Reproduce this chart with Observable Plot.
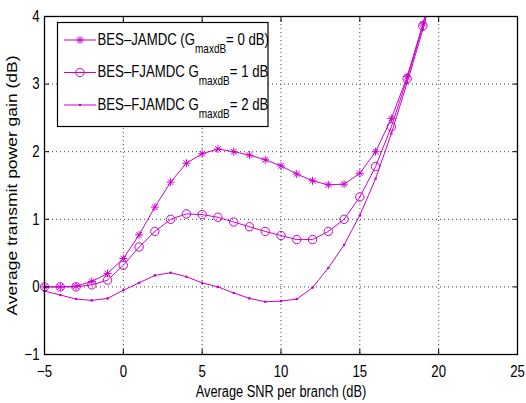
<!DOCTYPE html>
<html>
<head>
<meta charset="utf-8">
<script src="https://cdn.jsdelivr.net/npm/d3@7"></script>
<script src="https://cdn.jsdelivr.net/npm/@observablehq/plot@0.6"></script>
<style>
  html, body { margin: 0; padding: 0; background: white; }
</style>
</head>
<body>
<script>
// ---- data ----
const snr   = [-5, -4, -3, -2, -1, 0, 1, 2, 3, 4, 5, 6, 7, 8, 9, 10, 11, 12, 13, 14, 15, 16, 17, 18, 19, 20];
const gain0 = [0.00, 0.00, 0.01, 0.08, 0.20, 0.42, 0.77, 1.18, 1.55, 1.83, 1.97, 2.04, 2.00, 1.95, 1.88, 1.79, 1.67, 1.57, 1.51, 1.52, 1.68, 2.00, 2.49, 3.11, 3.89, 4.80];
const gain1 = [0.00, 0.00, 0.00, 0.03, 0.10, 0.32, 0.59, 0.82, 1.00, 1.08, 1.07, 1.03, 0.96, 0.89, 0.82, 0.76, 0.70, 0.70, 0.82, 1.00, 1.33, 1.78, 2.37, 3.08, 3.86, 4.75];
const gain2 = [-0.06, -0.12, -0.18, -0.20, -0.17, -0.05, 0.06, 0.17, 0.21, 0.15, 0.06, 0.00, -0.09, -0.17, -0.22, -0.21, -0.18, -0.01, 0.28, 0.62, 1.06, 1.60, 2.27, 3.02, 3.81, 4.70];

const legendMain = ["BES\u2013JAMDC (G", "BES\u2013FJAMDC G", "BES\u2013FJAMDC G"];
const legendSub  = ["maxdB", "maxdB", "maxdB"];
const legendRest = ["= 0 dB)", "= 1 dB", "= 2 dB"];

const xTicks = [-5, 0, 5, 10, 15, 20, 25];
const yTicks = [-1, 0, 1, 2, 3, 4];
const xGrid  = [0, 5, 10, 15, 20];
const yGrid  = [0, 1, 2, 3];
const xLabel = "Average SNR per branch (dB)";
const yLabel = "Average transmit power gain (dB)";

// ---- build ----
const rows = snr.map((x, i) => ({x, g0: gain0[i], g1: gain1[i], g2: gain2[i]}));
const color = "#cc00cc";
const FONT = "'Liberation Sans', Arial, Helvetica, sans-serif";
const fmt = d3.format("d");
const blank = () => "";

// MATLAB-style 8-armed asterisk
const star = {
  draw(ctx, size) {
    const r = Math.sqrt(size / Math.PI), d = r * Math.SQRT1_2;
    ctx.moveTo(-r, 0); ctx.lineTo(r, 0);
    ctx.moveTo(0, -r); ctx.lineTo(0, r);
    ctx.moveTo(-d, -d); ctx.lineTo(d, d);
    ctx.moveTo(-d, d); ctx.lineTo(d, -d);
  }
};

const gridStyle = {stroke: "#444", strokeOpacity: 1, strokeWidth: 1, strokeDasharray: "1,3"};
const inside = (k) => (d) => d[k] <= 4;
const TICK = 5;

const plot = Plot.plot({
  width: 526,
  height: 403,
  marginLeft: 44,
  marginRight: 9,
  marginTop: 16,
  marginBottom: 49,
  style: {fontFamily: FONT, fontSize: "16.5px", background: "white", color: "black"},
  x: {domain: [-5, 25]},
  y: {domain: [-1, 4]},
  marks: [
    Plot.gridX(xGrid, gridStyle),
    Plot.gridY(yGrid, gridStyle),
    Plot.line(rows, {x: "x", y: "g0", stroke: color, strokeWidth: 1, clip: true}),
    Plot.line(rows, {x: "x", y: "g1", stroke: color, strokeWidth: 1, clip: true}),
    Plot.line(rows, {x: "x", y: "g2", stroke: color, strokeWidth: 1, clip: true}),
    Plot.dot(rows, {filter: inside("g0"), x: "x", y: "g0", symbol: star, r: 4, stroke: color, fill: "none", strokeWidth: 1}),
    Plot.dot(rows, {filter: inside("g1"), x: "x", y: "g1", symbol: "circle", r: 4.2, stroke: color, fill: "none", strokeWidth: 1}),
    Plot.dot(rows, {filter: inside("g2"), x: "x", y: "g2", symbol: "circle", r: 1.3, fill: color, stroke: "none"}),
    Plot.frame({stroke: "black", strokeWidth: 1.3}),
    // inward tick marks on all four sides
    Plot.axisX(xTicks, {anchor: "bottom", tickSize: TICK, dy: -TICK, tickFormat: blank, label: null}),
    Plot.axisX(xTicks, {anchor: "top", tickSize: TICK, dy: TICK, tickFormat: blank, label: null}),
    Plot.axisY(yTicks, {anchor: "left", tickSize: TICK, dx: TICK, tickFormat: blank, label: null}),
    Plot.axisY(yTicks, {anchor: "right", tickSize: TICK, dx: -TICK, tickFormat: blank, label: null}),
    // tick labels
    Plot.axisX(xTicks, {anchor: "bottom", tickSize: 0, tickPadding: 11, tickFormat: fmt, label: null, fontSize: 16.5}),
    Plot.axisY(yTicks, {anchor: "left", tickSize: 0, tickPadding: 5, tickFormat: fmt, label: null, fontSize: 16.5}),
    Plot.text([xLabel], {frameAnchor: "bottom", dy: 42, lineAnchor: "bottom", textAnchor: "middle", text: (d) => d, fontSize: 16}),
    Plot.text([yLabel], {frameAnchor: "left", dx: -32, rotate: -90, textAnchor: "middle", lineAnchor: "middle", text: (d) => d, fontSize: 17.5})
  ]
});

document.body.append(plot);

// horizontally condensed lettering, as in the reference
const SQUEEZE = 0.8;
d3.select(plot).selectAll("text").each(function () {
  const t = this.getAttribute("transform") || "";
  if (t.includes("rotate")) {
    // rotated label: thin the glyphs horizontally, keep its length
    this.setAttribute("transform", t.replace("rotate", `scale(${SQUEEZE},1) rotate`));
    return;
  }
  const w = this.getComputedTextLength();
  if (w > 0) {
    this.setAttribute("textLength", (w * SQUEEZE).toFixed(2));
    this.setAttribute("lengthAdjust", "spacingAndGlyphs");
  }
});

// ---- legend (drawn inside the plot's SVG) ----
const lg = d3.select(plot).append("g").attr("font-family", FONT).attr("text-anchor", "start");
lg.append("rect")
  .attr("x", 57.5).attr("y", 22.5).attr("width", 210.5).attr("height", 104)
  .attr("fill", "white").attr("stroke", "black").attr("stroke-width", 1.2);

const rowY = [40, 72.5, 105];
const syms = [
  d3.symbol(star, Math.PI * 16),
  d3.symbol(d3.symbolCircle, Math.PI * 4.2 * 4.2),
  d3.symbol(d3.symbolCircle, Math.PI * 1.3 * 1.3)
];
legendMain.forEach((m, i) => {
  const y = rowY[i];
  lg.append("line").attr("x1", 64).attr("x2", 96).attr("y1", y).attr("y2", y)
    .attr("stroke", color).attr("stroke-width", 1);
  const p = lg.append("path").attr("d", syms[i]()).attr("transform", `translate(80,${y})`);
  if (i === 2) p.attr("fill", color).attr("stroke", "none");
  else p.attr("fill", "none").attr("stroke", color).attr("stroke-width", 1);
  const g = lg.append("g").attr("transform", `translate(97.5,${y + 4.5}) scale(${SQUEEZE},1)`);
  const t = g.append("text").attr("x", 0).attr("y", 0).attr("font-size", 16.5)
    .attr("fill", "black").attr("text-anchor", "start");
  t.append("tspan").text(m);
  t.append("tspan").attr("font-size", 12.5).attr("dy", 8).text(legendSub[i]);
  t.append("tspan").attr("dy", -8).text(legendRest[i]);
});
</script>
</body>
</html>
